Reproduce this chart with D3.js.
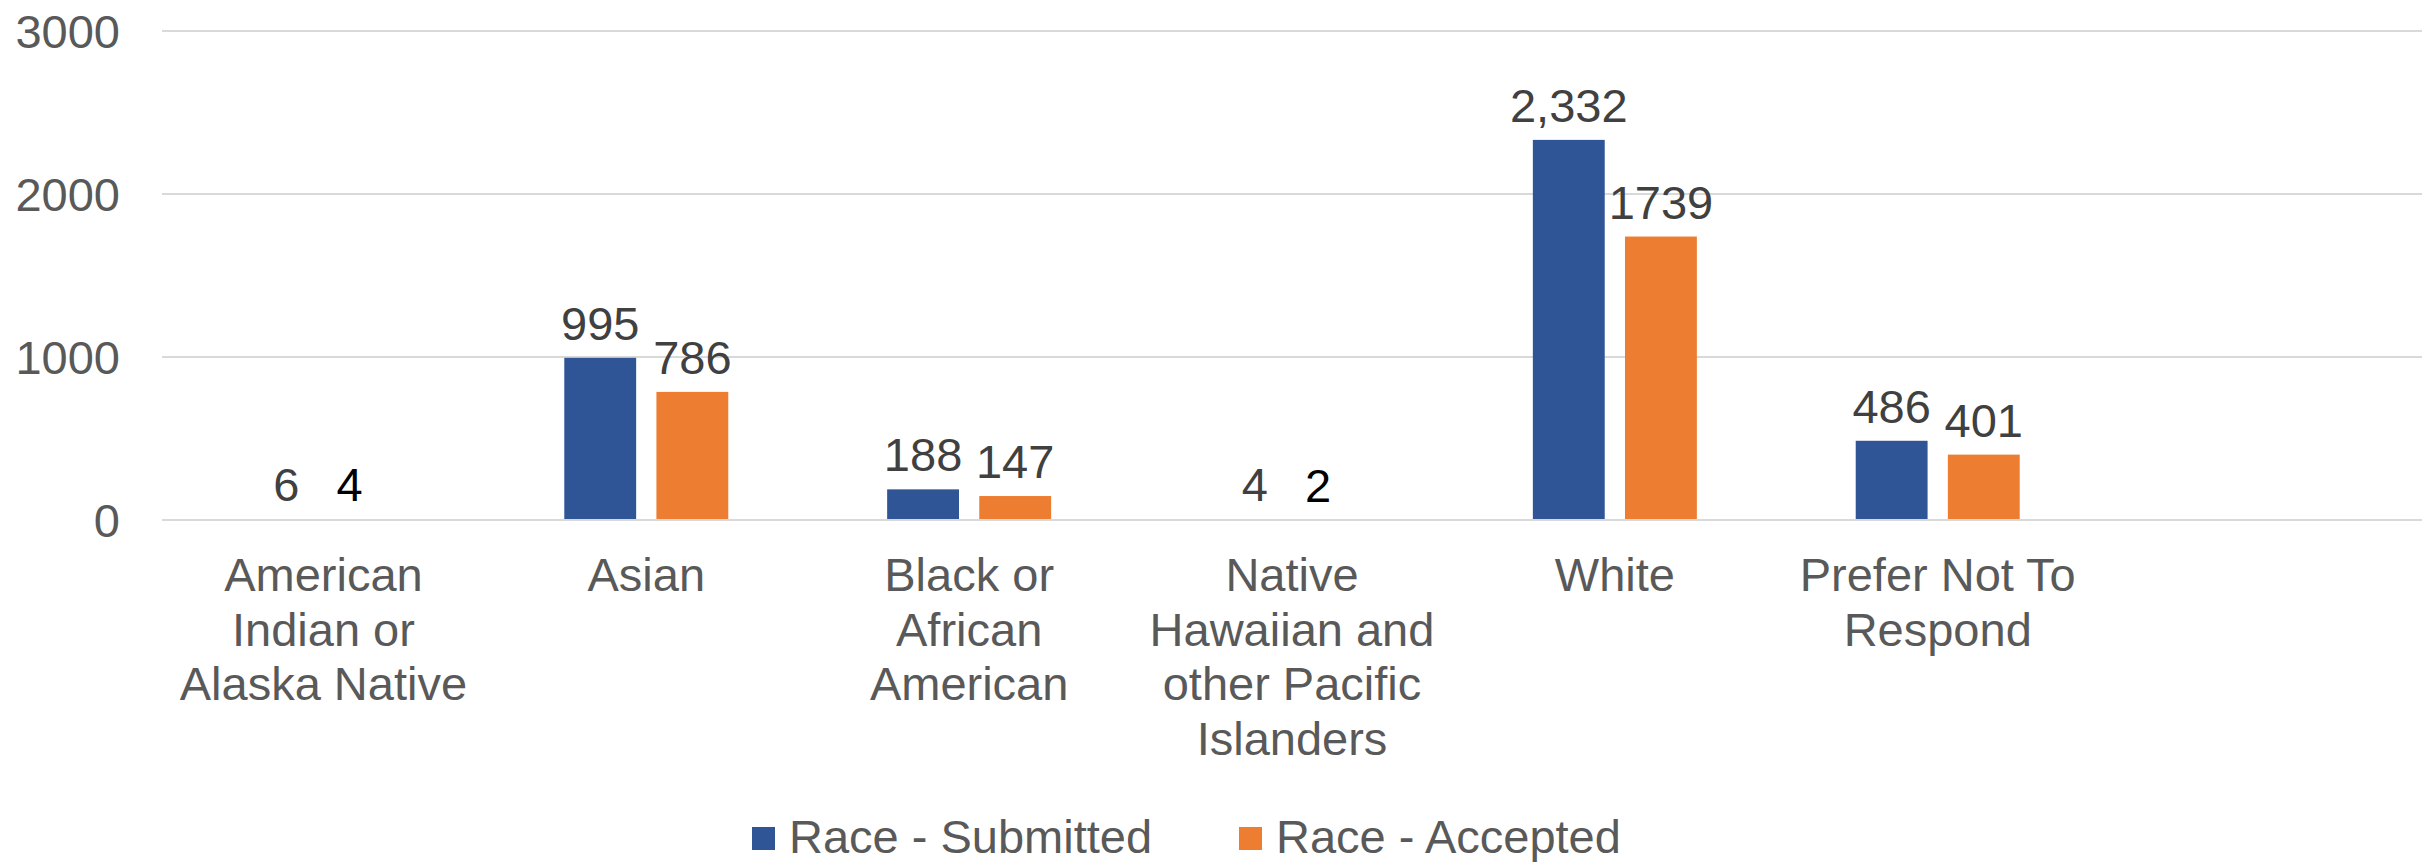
<!DOCTYPE html>
<html>
<head>
<meta charset="utf-8">
<script src="https://cdn.jsdelivr.net/npm/d3@7"></script>
<style>
  html, body { margin: 0; padding: 0; background: #fff; }
  svg { display: block; }
  text { font-family: "Liberation Sans", Arial, sans-serif; }
</style>
</head>
<body>
<svg id="chart" width="2422" height="862"></svg>
<script>
// ---- data ----
const categories = [
  "American Indian or Alaska Native",
  "Asian",
  "Black or African American",
  "Native Hawaiian and other Pacific Islanders",
  "White",
  "Prefer Not To Respond",
  ""                      // empty trailing category slot in the original chart
];
const seriesNames = ["Race - Submitted", "Race - Accepted"];
const submitted = [6, 995, 188, 4, 2332, 486, null];
const accepted  = [4, 786, 147, 2, 1739, 401, null];
const yTicks = [0, 1000, 2000, 3000];
const seriesColors = ["#2F5597", "#ED7D31"];

// ---- layout ----
const plotLeft = 162, plotRight = 2422, plotTop = 31, plotBottom = 520;
const FS = 47;

const svg = d3.select("#chart");

const x = d3.scaleBand().domain(d3.range(categories.length))
  .range([plotLeft, plotRight]).paddingInner(0).paddingOuter(0);
const groupW = 164;
const x1 = d3.scaleBand().domain(seriesNames)
  .range([-groupW / 2, groupW / 2]).paddingInner(0.22).paddingOuter(0);
const y = d3.scaleLinear().domain([0, 3000]).range([plotBottom, plotTop]);

// gridlines (non-zero)
const gridG = svg.append("g");
gridG.selectAll("line").data(yTicks.filter(d => d !== 0)).join("line")
  .attr("x1", plotLeft).attr("x2", plotRight)
  .attr("y1", d => y(d)).attr("y2", d => y(d))
  .attr("stroke", "#d9d9d9").attr("stroke-width", 2);

// y axis labels
const yAxis = d3.axisLeft(y).tickValues(yTicks).tickSize(0).tickPadding(0)
  .tickFormat(d3.format("d"));
const yg = svg.append("g").attr("transform", `translate(120,0)`).call(yAxis);
yg.select(".domain").remove();
yg.selectAll("text")
  .attr("font-size", FS).attr("fill", "#595959")
  .attr("font-family", "Liberation Sans, Arial, sans-serif")
  .attr("dy", "0.35em");

// bars
const seriesData = [submitted, accepted];
const fmts = [d3.format(","), d3.format("d")];
const barsG = svg.append("g");
const labelsG = svg.append("g");
seriesNames.forEach((s, si) => {
  const vals = seriesData[si];
  const pts = vals.map((v, i) => ({ v, i })).filter(d => d.v != null);
  barsG.append("g").selectAll("rect").data(pts).join("rect")
    .attr("x", d => x(d.i) + x.bandwidth() / 2 + x1(s))
    .attr("width", x1.bandwidth())
    .attr("y", d => y(d.v))
    .attr("height", d => y(0) - y(d.v))
    .attr("fill", seriesColors[si]);
  // data labels
  labelsG.append("g").selectAll("text").data(pts).join("text")
    .attr("x", d => {
      let cx = x(d.i) + x.bandwidth() / 2 + x1(s) + x1.bandwidth() / 2;
      // tiny values: labels sit closer to the category centre
      if (d.v < 10) cx += (si === 0 ? 9 : -20);
      return cx;
    })
    .attr("y", d => y(d.v) - 18)
    .attr("text-anchor", "middle")
    .attr("font-size", FS)
    .attr("fill", d => (si === 1 && d.v < 10) ? "#000000" : "#404040")
    .text(d => fmts[si](d.v));
});

// zero line on top of bars
svg.append("line")
  .attr("x1", plotLeft).attr("x2", plotRight)
  .attr("y1", y(0)).attr("y2", y(0))
  .attr("stroke", "#d9d9d9").attr("stroke-width", 2);

// category labels with wrapping
const maxW = x.bandwidth() * 0.985;
const lineH = 54.5;
const catG = svg.append("g");
categories.forEach((c, i) => {
  if (!c) return;
  const t = catG.append("text")
    .attr("x", x(i) + x.bandwidth() / 2)
    .attr("text-anchor", "middle")
    .attr("font-size", FS)
    .attr("fill", "#595959");
  const words = c.split(" ");
  const lines = [];
  let cur = [];
  const probe = t.append("tspan");
  words.forEach(w => {
    const test = cur.concat([w]).join(" ");
    probe.text(test);
    if (probe.node().getComputedTextLength() > maxW && cur.length) {
      lines.push(cur.join(" "));
      cur = [w];
    } else {
      cur.push(w);
    }
  });
  if (cur.length) lines.push(cur.join(" "));
  probe.remove();
  lines.forEach((ln, li) => {
    t.append("tspan")
      .attr("x", x(i) + x.bandwidth() / 2)
      .attr("y", 591 + li * lineH)
      .text(ln);
  });
});

// legend
const legend = svg.append("g");
const legendItems = [
  { name: seriesNames[0], color: seriesColors[0], x: 752 },
  { name: seriesNames[1], color: seriesColors[1], x: 1239 }
];
legendItems.forEach(it => {
  legend.append("rect")
    .attr("x", it.x).attr("y", 827).attr("width", 23).attr("height", 23)
    .attr("fill", it.color);
  legend.append("text")
    .attr("x", it.x + 37).attr("y", 853)
    .attr("font-size", FS).attr("fill", "#595959")
    .text(it.name);
});
</script>
</body>
</html>
